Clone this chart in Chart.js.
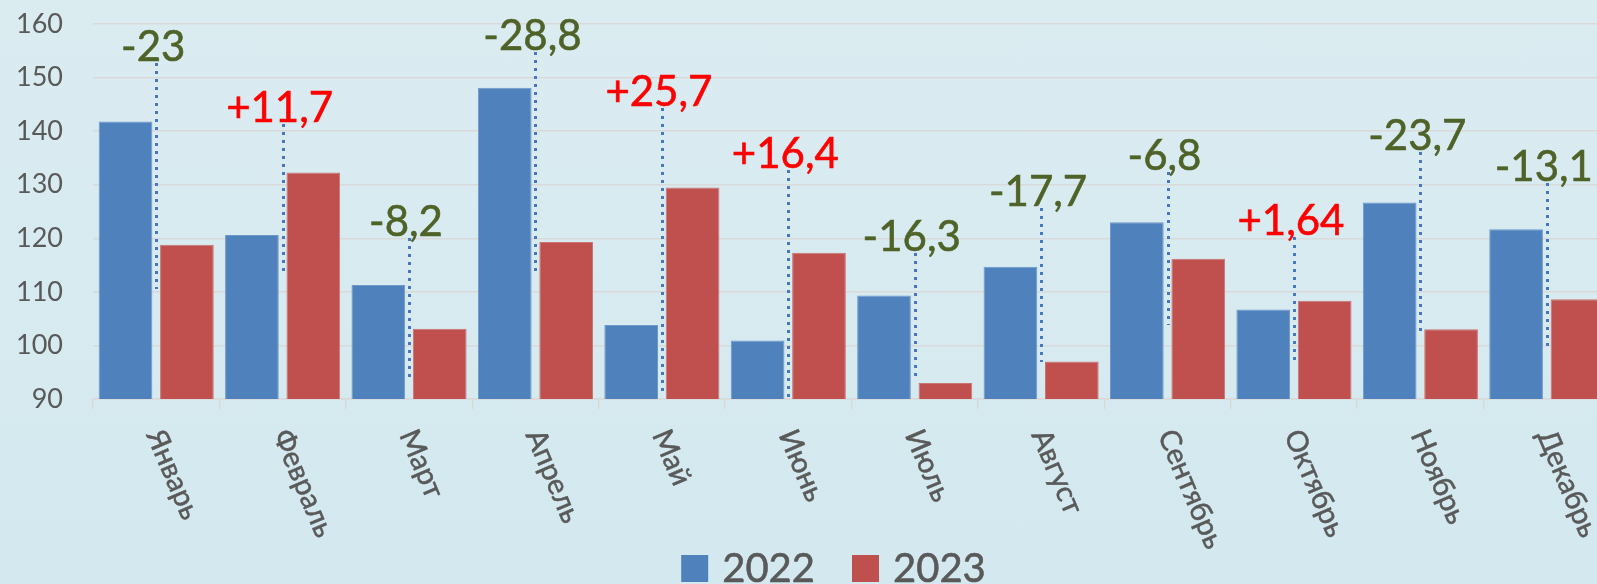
<!DOCTYPE html>
<html lang="ru">
<head>
<meta charset="utf-8">
<title>2022 / 2023</title>
<script src="https://cdn.jsdelivr.net/npm/chart.js@4.4.1/dist/chart.umd.min.js"></script>
<style>
  html, body { margin: 0; padding: 0; overflow: hidden; }
  body { width: 1597px; height: 584px; background: linear-gradient(#dbecf1, #d3e9ef); }
  #wrap { position: relative; width: 1667px; height: 584px; }
</style>
</head>
<body>
<div id="wrap"><canvas id="chart"></canvas></div>
<script>
const months = ['Январь', 'Февраль', 'Март', 'Апрель', 'Май', 'Июнь', 'Июль', 'Август', 'Сентябрь', 'Октябрь', 'Ноябрь', 'Декабрь'];
const seriesNames = ['2022', '2023'];
const values2022 = [141.8, 120.6, 111.3, 148.1, 103.8, 100.9, 109.3, 114.7, 123.0, 106.7, 126.7, 121.7];
const values2023 = [118.8, 132.3, 103.1, 119.3, 129.5, 117.3, 93.0, 97.0, 116.2, 108.34, 103.0, 108.6];
const yTicks = [90, 100, 110, 120, 130, 140, 150, 160];

// difference labels and the dotted leader lines (ends in axis units)
const diffLabels = ['-23', '+11,7', '-8,2', '-28,8', '+25,7', '+16,4', '-16,3', '-17,7', '-6,8', '+1,64', '-23,7', '-13,1'];
const diffTop = [152.7, 141.3, 120.0, 154.8, 144.3, 132.7, 117.2, 125.6, 132.4, 120.3, 136.2, 130.3];
const diffBottom = [110.5, 113.3, 93.5, 113.8, 90.7, 90.4, 93.5, 97.0, 103.8, 96.8, 102.6, 99.1];

const BLUE = '#4f81bd';
const RED = '#c0504d';
const TEXT = '#595959';
const GRID = '#d9d9d9';
const FONT = "Lato, 'Open Sans', sans-serif";

/* -------------------- PLUGINS -------------------- */

// fill + a hairline stroke, so Lato gets closer to the heavier original glyphs
function heavyText(ctx, text, x, y, width) {
    ctx.fillText(text, x, y);
    ctx.lineWidth = width;
    ctx.strokeStyle = ctx.fillStyle;
    ctx.strokeText(text, x, y);
}

const diffMarks = {
    id: 'diffMarks',
    afterDatasetsDraw(chart) {
        const { ctx, scales: { x, y } } = chart;
        ctx.save();
        ctx.strokeStyle = '#4677c0';
        ctx.lineWidth = 3;
        ctx.setLineDash([3, 5]);
        months.forEach((m, i) => {
            const px = Math.round(x.getPixelForValue(i)) + 0.5;
            ctx.beginPath();
            ctx.moveTo(px, Math.round(y.getPixelForValue(diffTop[i])));
            ctx.lineTo(px, Math.round(y.getPixelForValue(diffBottom[i])));
            ctx.stroke();
        });
        ctx.setLineDash([]);
        ctx.font = `42px ${FONT}`;
        ctx.textAlign = 'center';
        ctx.textBaseline = 'alphabetic';
        diffLabels.forEach((t, i) => {
            ctx.fillStyle = t.startsWith('+') ? '#ff0000' : '#4f6228';
            heavyText(ctx, t, x.getPixelForValue(i) - 3, y.getPixelForValue(diffTop[i]) - 2, 0.6);
        });
        ctx.restore();
    }
};

const monthLabels = {
    id: 'monthLabels',
    afterDraw(chart) {
        const { ctx, chartArea, scales: { x } } = chart;
        ctx.save();
        ctx.font = `29px ${FONT}`;
        ctx.fillStyle = TEXT;
        ctx.textAlign = 'left';
        ctx.textBaseline = 'middle';
        months.forEach((m, i) => {
            ctx.save();
            ctx.translate(x.getPixelForValue(i) - 1.5, chartArea.bottom + 32);
            ctx.rotate(67 * Math.PI / 180);
            heavyText(ctx, m, 0, 0, 0.5);
            ctx.restore();
        });
        ctx.restore();
    }
};

const bottomLegend = {
    id: 'bottomLegend',
    afterDraw(chart) {
        const { ctx, width } = chart;
        const colors = [BLUE, RED];
        const box = 27, gap = 14, spacing = 37;
        ctx.save();
        ctx.font = `40px ${FONT}`;
        ctx.textBaseline = 'alphabetic';
        ctx.textAlign = 'left';
        const widths = seriesNames.map(n => ctx.measureText(n).width);
        const total = widths.reduce((s, w) => s + box + gap + w, 0) + spacing * (seriesNames.length - 1);
        let left = width / 2 - total / 2;
        const base = 582;
        seriesNames.forEach((n, i) => {
            ctx.fillStyle = colors[i];
            ctx.fillRect(left, base - box, box, box);
            ctx.fillStyle = TEXT;
            heavyText(ctx, n, left + box + gap, base, 0.6);
            left += box + gap + widths[i] + spacing;
        });
        ctx.restore();
    }
};

/* -------------------- CHART -------------------- */

new Chart(document.getElementById('chart'), {
    type: 'bar',
    data: {
        labels: months,
        datasets: [
            {
                label: seriesNames[0],
                data: values2022,
                backgroundColor: BLUE,
                borderColor: '#6e98cb',
                borderWidth: 1,
                categoryPercentage: 0.9715,
                barPercentage: 0.8746
            },
            {
                label: seriesNames[1],
                data: values2023,
                backgroundColor: RED,
                borderColor: '#cc7472',
                borderWidth: 1,
                categoryPercentage: 0.9715,
                barPercentage: 0.8746
            }
        ]
    },
    options: {
        responsive: true,
        maintainAspectRatio: false,
        animation: false,
        devicePixelRatio: 1,
        layout: { padding: { top: 24, left: 0, right: 57, bottom: 175 } },
        plugins: {
            legend: { display: false },
            tooltip: { enabled: false }
        },
        scales: {
            x: {
                offset: true,
                grid: {
                    offset: true,
                    drawOnChartArea: false,
                    drawTicks: true,
                    tickLength: 10,
                    color: GRID,
                    lineWidth: 1.5
                },
                border: { color: GRID, width: 1.5 },
                ticks: { display: false }
            },
            y: {
                min: 90,
                max: 160,
                afterBuildTicks: scale => { scale.ticks = yTicks.map(v => ({ value: v })); },
                afterFit: scale => {
                    scale.width = 93;
                    // tick padding would otherwise push the plot down
                    scale.paddingTop = 0;
                    scale.paddingBottom = 0;
                },
                grid: { color: GRID, lineWidth: 1.5, drawTicks: false },
                border: { display: false },
                ticks: {
                    padding: 30,
                    color: TEXT,
                    font: { family: FONT, size: 27 }
                }
            }
        }
    },
    plugins: [diffMarks, monthLabels, bottomLegend]
});
</script>
</body>
</html>
